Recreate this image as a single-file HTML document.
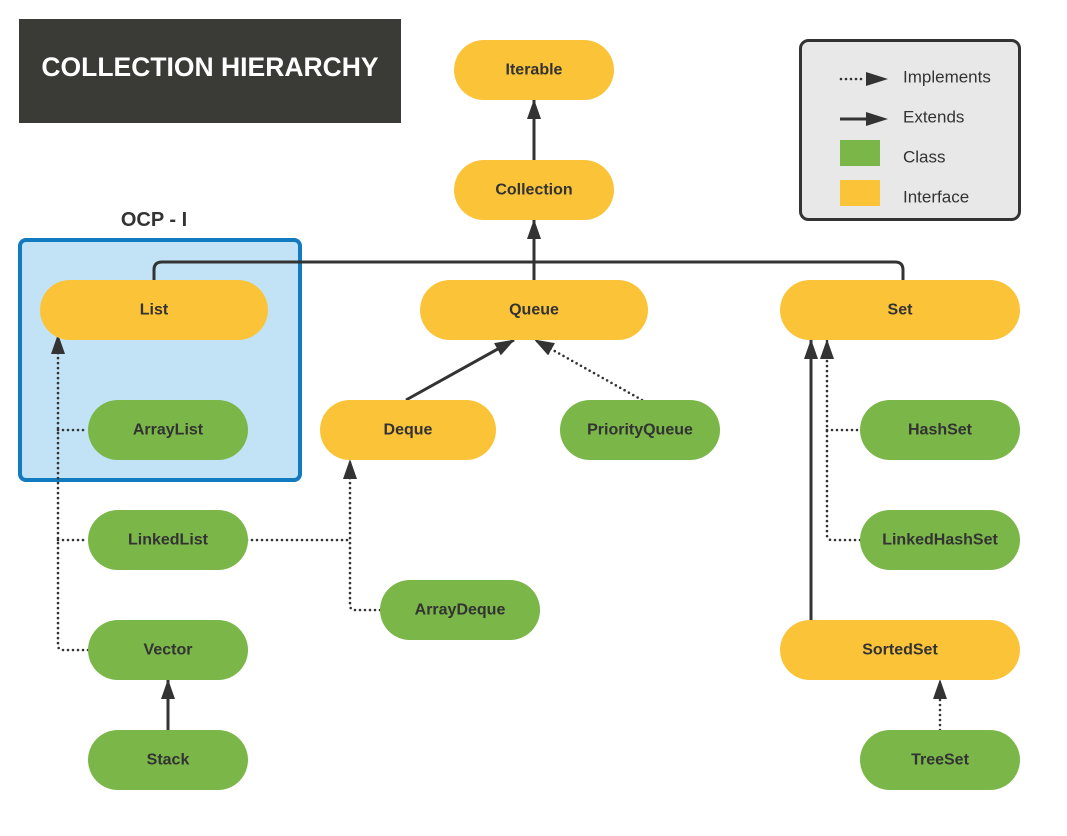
<!DOCTYPE html>
<html><head><meta charset="utf-8"><style>
html,body{margin:0;padding:0;background:#fff;}
svg{display:block;font-family:"Liberation Sans",Arial,sans-serif;}
.n{font-weight:bold;font-size:16px;fill:#333;text-anchor:middle;dominant-baseline:central;}
.l{font-size:17px;fill:#333;dominant-baseline:central;}
.s{stroke:#333;stroke-width:3;fill:none;}
.d{stroke:#333;stroke-width:2.6;fill:none;stroke-dasharray:0 5;stroke-linecap:round;}
</style></head><body>
<svg width="1067" height="836" viewBox="0 0 1067 836">
<defs>
<marker id="a" viewBox="0 0 20 14" refX="19" refY="7" markerUnits="userSpaceOnUse" markerWidth="20" markerHeight="14" orient="auto"><path d="M0,0 L20,7 L0,14 z" fill="#333"/></marker>
</defs>
<rect x="19" y="19" width="382" height="104" fill="#3a3b37"/>
<text x="210" y="67" text-anchor="middle" dominant-baseline="central" fill="#fff" font-weight="bold" font-size="26.5">COLLECTION HIERARCHY</text>
<rect x="800.5" y="40.5" width="219" height="179" rx="8" fill="#e8e8e8" stroke="#333" stroke-width="3"/>
<line x1="841" y1="79" x2="862" y2="79" class="d"/>
<path d="M866,72 L888,79 L866,86 z" fill="#333"/>
<line x1="840" y1="119" x2="866" y2="119" stroke="#333" stroke-width="3"/>
<path d="M866,112 L888,119 L866,126 z" fill="#333"/>
<rect x="840" y="140" width="40" height="26" fill="#7ab648"/>
<rect x="840" y="180" width="40" height="26" fill="#fbc338"/>
<text x="903" y="77" class="l">Implements</text>
<text x="903" y="117" class="l">Extends</text>
<text x="903" y="157" class="l">Class</text>
<text x="903" y="197" class="l">Interface</text>
<text x="154" y="220" text-anchor="middle" dominant-baseline="central" fill="#333" font-weight="bold" font-size="20">OCP - I</text>
<rect x="20" y="240" width="280" height="240" rx="6" fill="#c1e3f5" stroke="#127abf" stroke-width="4"/>

<line x1="534" y1="160" x2="534" y2="100" class="s" marker-end="url(#a)"/>
<line x1="534" y1="280" x2="534" y2="220" class="s" marker-end="url(#a)"/>
<path d="M154,280 V270 Q154,262 162,262 H895 Q903,262 903,270 V280" class="s"/>
<line x1="406" y1="400" x2="514" y2="340" class="s" marker-end="url(#a)"/>
<line x1="642" y1="400" x2="535" y2="340" class="d" marker-end="url(#a)"/>
<path d="M88,650 H63 Q58,650 58,645 V335" class="d" marker-end="url(#a)"/>
<line x1="58" y1="430" x2="88" y2="430" class="d"/>
<line x1="58" y1="540" x2="88" y2="540" class="d"/>
<line x1="247" y1="540" x2="350" y2="540" class="d"/>
<path d="M380,610 H355 Q350,610 350,605 V460" class="d" marker-end="url(#a)"/>
<line x1="811" y1="620" x2="811" y2="340" class="s" marker-end="url(#a)"/>
<path d="M860,540 H832 Q827,540 827,535 V340" class="d" marker-end="url(#a)"/>
<line x1="827" y1="430" x2="860" y2="430" class="d"/>
<line x1="940" y1="730" x2="940" y2="680" class="d" marker-end="url(#a)"/>
<line x1="168" y1="730" x2="168" y2="680" class="s" marker-end="url(#a)"/>

<g>
<rect x="454" y="40" width="160" height="60" rx="30" fill="#fbc338"/><text x="534" y="70" class="n">Iterable</text>
<rect x="454" y="160" width="160" height="60" rx="30" fill="#fbc338"/><text x="534" y="190" class="n">Collection</text>
<rect x="40" y="280" width="228" height="60" rx="30" fill="#fbc338"/><text x="154" y="310" class="n">List</text>
<rect x="420" y="280" width="228" height="60" rx="30" fill="#fbc338"/><text x="534" y="310" class="n">Queue</text>
<rect x="780" y="280" width="240" height="60" rx="30" fill="#fbc338"/><text x="900" y="310" class="n">Set</text>
<rect x="88" y="400" width="160" height="60" rx="30" fill="#7ab648"/><text x="168" y="430" class="n">ArrayList</text>
<rect x="320" y="400" width="176" height="60" rx="30" fill="#fbc338"/><text x="408" y="430" class="n">Deque</text>
<rect x="560" y="400" width="160" height="60" rx="30" fill="#7ab648"/><text x="640" y="430" class="n">PriorityQueue</text>
<rect x="860" y="400" width="160" height="60" rx="30" fill="#7ab648"/><text x="940" y="430" class="n">HashSet</text>
<rect x="88" y="510" width="160" height="60" rx="30" fill="#7ab648"/><text x="168" y="540" class="n">LinkedList</text>
<rect x="860" y="510" width="160" height="60" rx="30" fill="#7ab648"/><text x="940" y="540" class="n">LinkedHashSet</text>
<rect x="380" y="580" width="160" height="60" rx="30" fill="#7ab648"/><text x="460" y="610" class="n">ArrayDeque</text>
<rect x="88" y="620" width="160" height="60" rx="30" fill="#7ab648"/><text x="168" y="650" class="n">Vector</text>
<rect x="780" y="620" width="240" height="60" rx="30" fill="#fbc338"/><text x="900" y="650" class="n">SortedSet</text>
<rect x="88" y="730" width="160" height="60" rx="30" fill="#7ab648"/><text x="168" y="760" class="n">Stack</text>
<rect x="860" y="730" width="160" height="60" rx="30" fill="#7ab648"/><text x="940" y="760" class="n">TreeSet</text>
</g>
</svg>
</body></html>
